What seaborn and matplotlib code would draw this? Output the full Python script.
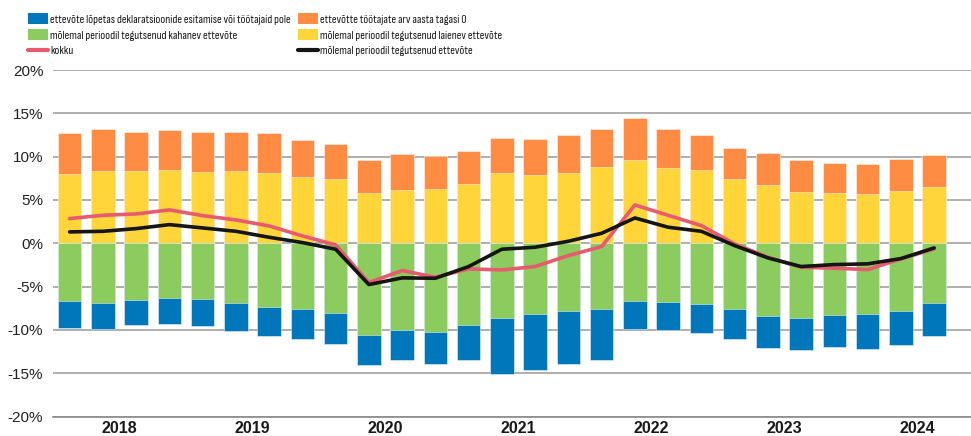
import os
import numpy as np
import pandas as pd
import matplotlib
matplotlib.use("Agg")
import matplotlib.pyplot as plt
from matplotlib import font_manager as fm
from matplotlib.patches import Patch
from matplotlib.lines import Line2D
import seaborn as sns

# ---------------- data ----------------
years = ["2018", "2019", "2020", "2021", "2022", "2023", "2024"]
quarters = [f"{y}Q{q}" for y in years for q in range(1, 5)][:27]

lopetas = [-3.11, -2.99, -2.88, -3.00, -3.04, -3.23, -3.42, -3.54, -3.58, -3.54,
           -3.46, -3.73, -4.00, -6.47, -6.43, -6.08, -5.92, -3.30, -3.23, -3.34,
           -3.38, -3.62, -3.73, -3.73, -4.04, -3.93, -3.84]
kahanev = [-6.66, -6.89, -6.54, -6.27, -6.46, -6.85, -7.31, -7.54, -8.04, -10.54,
           -9.96, -10.23, -9.42, -8.65, -8.19, -7.81, -7.58, -6.62, -6.77, -7.04,
           -7.62, -8.42, -8.58, -8.27, -8.12, -7.77, -6.89]
laienev = [8.00, 8.34, 8.30, 8.42, 8.23, 8.30, 8.11, 7.69, 7.38, 5.80,
           6.11, 6.27, 6.84, 8.11, 7.88, 8.11, 8.80, 9.61, 8.69, 8.46,
           7.38, 6.73, 5.92, 5.80, 5.73, 6.07, 6.50]
uus = [4.69, 4.81, 4.58, 4.68, 4.57, 4.58, 4.62, 4.19, 4.04, 3.81,
       4.16, 3.80, 3.85, 4.00, 4.12, 4.39, 4.43, 4.81, 4.54, 4.00,
       3.65, 3.73, 3.69, 3.47, 3.46, 3.66, 3.65]
kokku = [2.85, 3.23, 3.38, 3.85, 3.19, 2.69, 2.00, 0.85, -0.19, -4.54,
         -3.15, -3.92, -2.96, -3.08, -2.69, -1.42, -0.38, 4.42, 3.23, 2.04,
         -0.08, -1.62, -2.77, -2.88, -3.04, -1.81, -0.65]
molemal = [1.31, 1.38, 1.69, 2.15, 1.77, 1.38, 0.69, 0.08, -0.69, -4.77,
           -4.00, -4.04, -2.69, -0.69, -0.46, 0.23, 1.15, 2.92, 1.85, 1.38,
           -0.27, -1.69, -2.69, -2.46, -2.38, -1.77, -0.54]

yticks = [20, 15, 10, 5, 0, -5, -10, -15, -20]
ytick_labels = ["20%", "15%", "10%", "5%", "0%", "-5%", "-10%", "-15%", "-20%"]

labels = {
    "lopetas": "ettevõte lõpetas deklaratsioonide esitamise või töötajaid pole",
    "uus": "ettevõtte töötajate arv aasta tagasi 0",
    "kahanev": "mõlemal perioodil tegutsenud kahanev ettevõte",
    "laienev": "mõlemal perioodil tegutsenud laienev ettevõte",
    "kokku": "kokku",
    "molemal": "mõlemal perioodil tegutsenud ettevõte",
}

colors = {
    "lopetas": "#0077BB",
    "uus": "#FF8C42",
    "kahanev": "#8CCB5E",
    "laienev": "#FFD53A",
    "kokku": "#E85A70",
    "molemal": "#151515",
}

df = pd.DataFrame({
    "quarter": quarters,
    "lopetas": lopetas, "kahanev": kahanev, "laienev": laienev, "uus": uus,
    "kokku": kokku, "molemal": molemal,
})
df["pos"] = np.arange(len(df))
df["pos_top"] = df["laienev"] + df["uus"]
df["neg_bot"] = df["kahanev"] + df["lopetas"]

# ---------------- style ----------------
sns.set_style("white")
plt.rcParams["font.family"] = ["Liberation Sans", "DejaVu Sans"]

W, H = 971, 436
fig = plt.figure(figsize=(W / 100, H / 100), dpi=100)
renderer = fig.canvas.get_renderer()

# choose the narrowest available sans face for the legend
available = {f.name for f in fm.fontManager.ttflist}
bad = ("Bold", "Italic", "Oblique", "Light", "Thin", "Black", "Medium", "Serif", "Mono", "Extra")
cand_props = []
for f in fm.fontManager.ttflist:
    b = os.path.basename(f.fname)
    if ("Narrow" in b or "Condensed" in b) and "Sans" in b and not any(k in b for k in bad):
        cand_props.append(fm.FontProperties(fname=f.fname))
for fam in ["Roboto", "Lato", "Inter", "Open Sans", "Noto Sans", "Liberation Sans"]:
    if fam in available:
        cand_props.append(fm.FontProperties(family=[fam, "DejaVu Sans"]))

best, best_w = None, 1e9
for p in cand_props:
    p.set_size(10)
    t = fig.text(0, 0, labels["lopetas"], fontproperties=p)
    w = t.get_window_extent(renderer).width
    t.remove()
    if w < best_w:
        best, best_w = p, w
legend_prop = best
legend_size = min(11.0, 10 * 242 / best_w)
legend_prop.set_size(legend_size)
fs_px = legend_size * 100 / 72

left_px, right_px, top_px, bot_px = 53, 984, 70, 416.5
ax = fig.add_axes([left_px / W, (H - bot_px) / H, (right_px - left_px) / W, (bot_px - top_px) / H])

bar_kw = dict(width=0.70, saturation=1, errorbar=None, linewidth=0.6,
              edgecolor=(1, 1, 1, 0.55), order=quarters, ax=ax)
sns.barplot(data=df, x="quarter", y="pos_top", color=colors["uus"], **bar_kw)
sns.barplot(data=df, x="quarter", y="laienev", color=colors["laienev"], **bar_kw)
sns.barplot(data=df, x="quarter", y="neg_bot", color=colors["lopetas"], **bar_kw)
sns.barplot(data=df, x="quarter", y="kahanev", color=colors["kahanev"], **bar_kw)

sns.lineplot(data=df, x="pos", y="kokku", color=colors["kokku"], lw=2.6, ax=ax, zorder=4)
sns.lineplot(data=df, x="pos", y="molemal", color=colors["molemal"], lw=2.6, ax=ax, zorder=5)

ax.set_xlim(-0.5, 27.5)
ax.set_ylim(-20, 20)
ax.set_xlabel("")
ax.set_ylabel("")

# grid
ax.set_axisbelow(True)
ax.set_yticks(yticks)
ax.set_yticklabels(ytick_labels)
ax.yaxis.grid(True, color="#A8A8A8", lw=1.3)
ax.tick_params(axis="y", length=0, pad=7, labelsize=11, labelcolor="#222222")

for s in ["left", "right", "top"]:
    ax.spines[s].set_visible(False)
ax.spines["bottom"].set_color("#8A8A8A")
ax.spines["bottom"].set_linewidth(1.2)

# x axis: boundaries as major ticks, year labels as minor
bounds = [-0.5 + 4 * k for k in range(7)]
centers = [1.5 + 4 * k for k in range(len(years))]
ax.set_xticks(bounds)
ax.set_xticklabels([""] * len(bounds))
ax.set_xticks(centers, minor=True)
ax.set_xticklabels(years, minor=True)
ax.tick_params(axis="x", which="major", direction="in", length=5, width=1.2, color="#8A8A8A")
ax.tick_params(axis="x", which="minor", length=0, pad=3, labelsize=11.5, labelcolor="#1a1a1a")
for t in ax.get_xticklabels(minor=True):
    t.set_fontweight("bold")

# legend (two columns placed as two legends)
def make_handle(key):
    if key in ("kokku", "molemal"):
        return Line2D([], [], color=colors[key], lw=3)
    return Patch(facecolor=colors[key], edgecolor="none")

spacing = max(0.05, 18.5 / fs_px - 1.2)
leg_kw = dict(loc="upper left", frameon=False, borderpad=0, borderaxespad=0,
              handlelength=20 / fs_px, handleheight=12.5 / fs_px, handletextpad=2 / fs_px,
              labelspacing=spacing, labelcolor="#1a1a1a", prop=legend_prop)
col1 = ["lopetas", "kahanev", "kokku"]
col2 = ["uus", "laienev", "molemal"]
fig.legend([make_handle(k) for k in col1], [labels[k] for k in col1],
           bbox_to_anchor=(28 / W, 1 - 13 / H), **leg_kw)
fig.legend([make_handle(k) for k in col2], [labels[k] for k in col2],
           bbox_to_anchor=(298 / W, 1 - 13 / H), **leg_kw)

fig.savefig("out.png", dpi=100)
